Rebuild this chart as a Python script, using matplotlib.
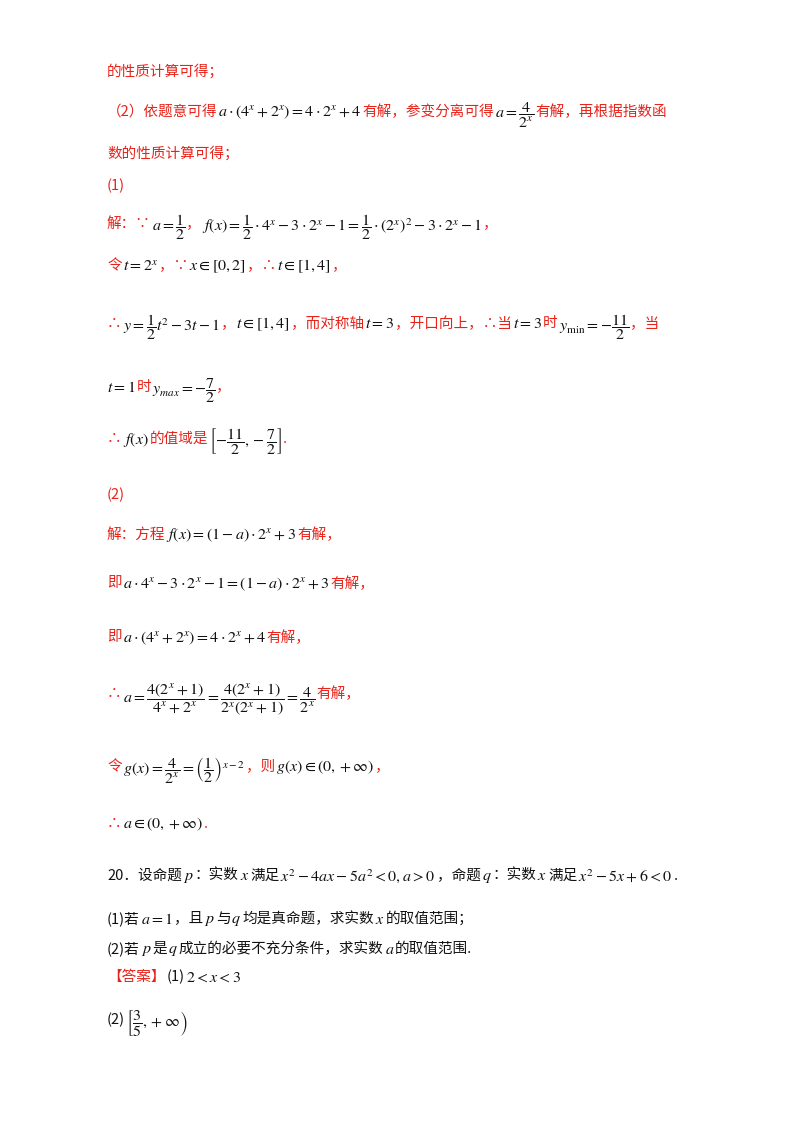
import matplotlib
matplotlib.use("Agg")
import matplotlib.pyplot as plt

plt.rcParams['font.family'] = ['Noto Sans CJK SC', 'DejaVu Sans']
plt.rcParams['mathtext.fontset'] = 'stix'

RED = "#e8231a"
BLK = "#111111"

# 每行: (x像素, y像素(自上), [(文本, 颜色), ...])
lines = [
    (107, 70, [("的性质计算可得；", RED)]),
    (107, 110, [("（2）依题意可得", RED), (r"$a\cdot\left(4^x+2^x\right)=4\cdot2^x+4$", BLK),
                ("有解，参变分离可得", RED), (r"$a=\dfrac{4}{2^x}$", BLK), ("有解，再根据指数函", RED)]),
    (107, 152, [("数的性质计算可得；", RED)]),
    (107, 184, [("(1)", RED)]),
    (107, 222, [("解：∵", RED), (r"$a=\dfrac{1}{2}$", BLK), ("，", RED),
                (r"$f\left(x\right)=\dfrac{1}{2}\cdot4^x-3\cdot2^x-1=\dfrac{1}{2}\cdot\left(2^x\right)^2-3\cdot2^x-1$", BLK),
                ("，", RED)]),
    (107, 264, [("令", RED), (r"$t=2^x$", BLK), ("，∵", RED), (r"$x\in\left[0,2\right]$", BLK),
                ("，∴", RED), (r"$t\in\left[1,4\right]$", BLK), ("，", RED)]),
    (107, 322, [("∴", RED), (r"$y=\dfrac{1}{2}t^2-3t-1$", BLK), ("，", RED), (r"$t\in\left[1,4\right]$", BLK),
                ("，而对称轴", RED), (r"$t=3$", BLK), ("，开口向上，∴当", RED), (r"$t=3$", BLK),
                ("时", RED), (r"$y_{\min}=-\dfrac{11}{2}$", BLK), ("，当", RED)]),
    (107, 385, [(r"$t=1$", BLK), ("时", RED), (r"$y_{max}=-\dfrac{7}{2}$", BLK), ("，", RED)]),
    (107, 437, [("∴", RED), (r"$f\left(x\right)$", BLK), ("的值域是", RED),
                (r"$\left[-\dfrac{11}{2},-\dfrac{7}{2}\right]$", BLK), (".", RED)]),
    (107, 493, [("(2)", RED)]),
    (107, 533, [("解：方程", RED), (r"$f\left(x\right)=\left(1-a\right)\cdot2^x+3$", BLK), ("有解，", RED)]),
    (107, 582, [("即", RED), (r"$a\cdot4^x-3\cdot2^x-1=\left(1-a\right)\cdot2^x+3$", BLK), ("有解，", RED)]),
    (107, 636, [("即", RED), (r"$a\cdot\left(4^x+2^x\right)=4\cdot2^x+4$", BLK), ("有解，", RED)]),
    (107, 692, [("∴", RED), (r"$a=\dfrac{4\left(2^x+1\right)}{4^x+2^x}=\dfrac{4\left(2^x+1\right)}{2^x\left(2^x+1\right)}=\dfrac{4}{2^x}$", BLK),
                ("有解，", RED)]),
    (107, 765, [("令", RED), (r"$g\left(x\right)=\dfrac{4}{2^x}=\left(\dfrac{1}{2}\right)^{x-2}$", BLK),
                ("，则", RED), (r"$g\left(x\right)\in\left(0,+\infty\right)$", BLK), ("，", RED)]),
    (107, 822, [("∴", RED), (r"$a\in\left(0,+\infty\right)$", BLK), (".", RED)]),
    (107, 874, [("20．设命题", BLK), (r"$p$", BLK), ("：实数", BLK), (r"$x$", BLK), ("满足", BLK),
                (r"$x^2-4ax-5a^2<0,a>0$", BLK), ("，命题", BLK), (r"$q$", BLK), ("：实数", BLK),
                (r"$x$", BLK), ("满足", BLK), (r"$x^2-5x+6<0$", BLK), (".", BLK)]),
    (107, 917, [("(1)若", BLK), (r"$a=1$", BLK), ("，且", BLK), (r"$p$", BLK), ("与", BLK), (r"$q$", BLK),
                ("均是真命题，求实数", BLK), (r"$x$", BLK), ("的取值范围；", BLK)]),
    (107, 947, [("(2)若", BLK), (r"$p$", BLK), ("是", BLK), (r"$q$", BLK), ("成立的必要不充分条件，求实数", BLK),
                (r"$a$", BLK), ("的取值范围.", BLK)]),
    (107, 975, [("【答案】", RED), ("(1)", BLK), (r"$2<x<3$", BLK)]),
    (107, 1018, [("(2)", BLK), (r"$\left[\dfrac{3}{5},+\infty\right)$", BLK)]),
]

W, H = 800, 1132
fig = plt.figure(figsize=(W / 100, H / 100), dpi=100)
fig.patch.set_facecolor("white")
renderer = fig.canvas.get_renderer()

for x0, y0, segs in lines:
    x = x0
    for s, c in segs:
        size = 11.5 if s.startswith("$") else 10.5
        t = fig.text(x / W, 1 - y0 / H, s, color=c, fontsize=size,
                     ha="left", va="center_baseline")
        bb = t.get_window_extent(renderer=renderer)
        x += bb.width + 1

fig.savefig("out.png", dpi=100)
